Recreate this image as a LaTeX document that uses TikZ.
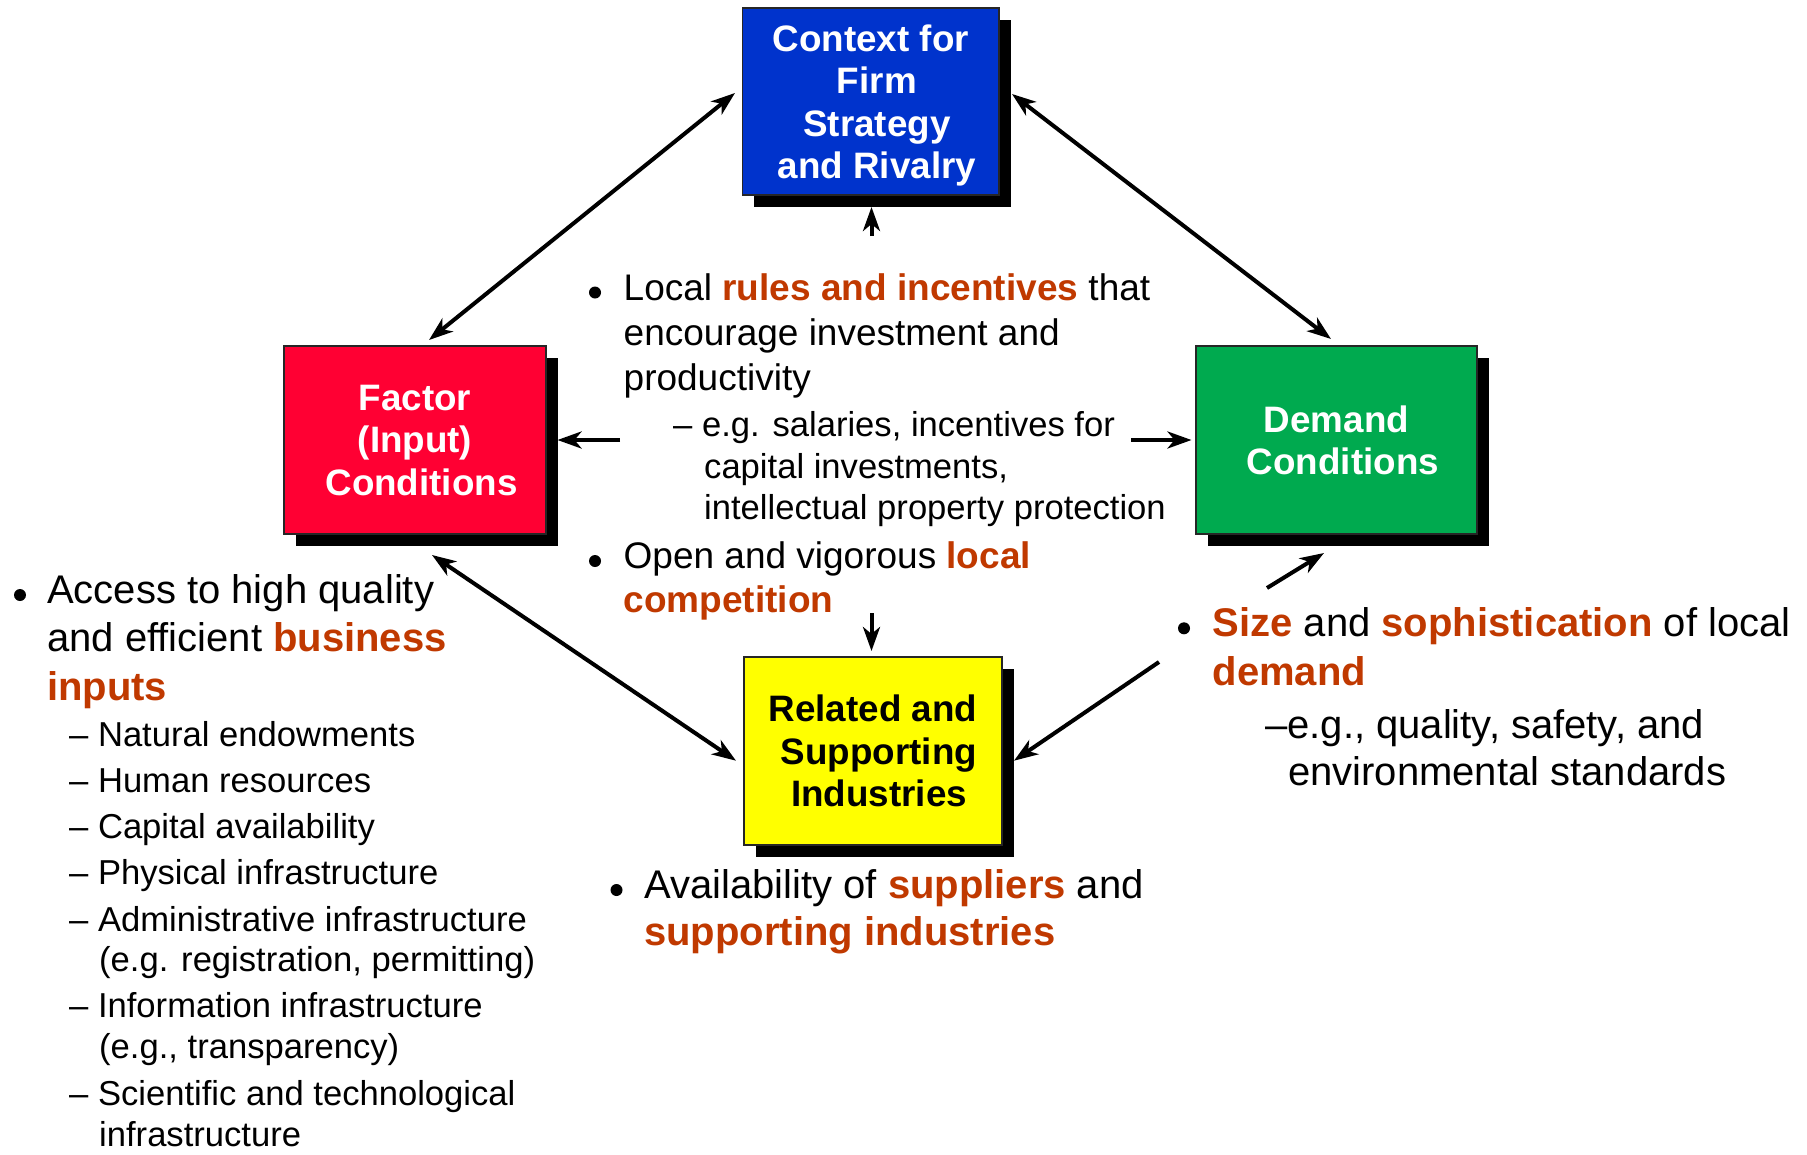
\documentclass[tikz,border=0pt]{standalone}
\usepackage{fontspec}
\setmainfont{Liberation Sans}
\usetikzlibrary{arrows.meta,shadows}
\definecolor{cblue}{RGB}{0,51,204}
\definecolor{cred}{RGB}{255,0,51}
\definecolor{cgreen}{RGB}{0,170,79}
\definecolor{cyel}{RGB}{255,255,0}
\definecolor{hlc}{RGB}{192,57,0}
\newcommand\hlt[1]{{\bfseries\color{hlc}#1}}
\newcommand\fA{\fontsize{37}{44}\selectfont}
\newcommand\fB{\fontsize{34.6}{41}\selectfont}
\newcommand\fC{\fontsize{40}{47}\selectfont}
\newcommand\rs{\hspace*{12pt}}
\begin{document}
\begin{tikzpicture}[x=1pt,y=-1pt,
  box/.style={draw=black!85, line width=1.5pt, align=center, inner sep=0pt, text depth=0pt,
    font=\fontsize{36.8}{42.5}\selectfont\bfseries,
    general shadow={fill=black, shadow xshift=11.5pt, shadow yshift=-11.5pt}},
  txt/.style={anchor=base west, inner sep=0pt},
  conn/.style={line width=4pt, -{Stealth[length=24pt,width=17pt,inset=7pt]}},
  twoway/.style={line width=4pt, {Stealth[length=24pt,width=17pt,inset=7pt]}-{Stealth[length=24pt,width=17pt,inset=7pt]}},
  plain/.style={line width=4pt}]
\fill[white] (0,0) rectangle (1807,1154);
\useasboundingbox (0,0) rectangle (1807,1154);

% boxes
\node[box, fill=cblue, text=white, minimum width=256.3pt, minimum height=187pt] (ctx) at (870.85,101.5) {Context for\\\rs Firm\\\rs Strategy\\\rs and Rivalry};
\node[box, fill=cred, text=white, minimum width=262pt, minimum height=188pt] (fac) at (415,440) {Factor\\(Input)\\\hspace*{13pt}Conditions};
\node[box, fill=cgreen, text=white, minimum width=281pt, minimum height=188pt] (dem) at (1336.5,440) {Demand\\\hspace*{13pt}Conditions};
\node[box, fill=cyel, text=black, minimum width=258pt, minimum height=188pt] (rel) at (873,751) {Related and\\\rs Supporting\\\rs Industries};

% connector end points
\coordinate (ctx-l) at (735,93);   \coordinate (fac-t) at (429,340);
\coordinate (ctx-r) at (1012,94);  \coordinate (dem-t) at (1331,339);
\coordinate (fac-b) at (432,555);  \coordinate (rel-l) at (736,760.7);
\coordinate (dem-line) at (1159,662); \coordinate (rel-r) at (1014,760.7);
\coordinate (dem-src) at (1267,588); \coordinate (dem-b) at (1324,553);
\coordinate (ctx-src) at (871.5,236); \coordinate (ctx-b) at (871.5,207);
\coordinate (rel-src) at (871.5,613); \coordinate (rel-t) at (871.5,651);
\coordinate (fac-src) at (620,440); \coordinate (fac-r) at (557.5,440);
\coordinate (dem-src2) at (1131,440); \coordinate (dem-l) at (1191.5,440);

\draw[twoway] (ctx-l) -- (fac-t);
\draw[twoway] (ctx-r) -- (dem-t);
\draw[twoway] (fac-b) -- (rel-l);
\draw[conn] (dem-line) -- (rel-r);
\draw[conn] (dem-src) -- (dem-b);
\draw[conn] (ctx-src) -- (ctx-b);
\draw[conn] (rel-src) -- (rel-t);
\draw[conn] (fac-src) -- (fac-r);
\draw[conn] (dem-src2) -- (dem-l);

% centre text
\fill (595,292.5) circle (6pt);
\node[txt, font=\fA] (c1) at (623.5,300.3) {Local \hlt{rules and incentives} that};
\node[txt, font=\fA] (c2) at (623.5,345.2) {encourage investment and};
\node[txt, font=\fA] (c3) at (623.5,390.1) {productivity};
\node[txt, font=\fB] (c4) at (673,436.6) {– e.g. salaries, incentives for};
\node[txt, font=\fB] (c5) at (704,478.1) {capital investments,};
\node[txt, font=\fB] (c6) at (704,519.6) {intellectual property protection};
\fill (595,561) circle (6pt);
\node[txt, font=\fA] (c7) at (623.5,568.8) {Open and vigorous \hlt{local}};
\node[txt, font=\fA] (c8) at (623.5,612.5) {\hlt{competition}};

% left text
\fill (20,595) circle (6pt);
\node[txt, font=\fC] (l1) at (47,603.3) {Access to high quality};
\node[txt, font=\fC] (l2) at (47,651.7) {and efficient \hlt{business}};
\node[txt, font=\fC] (l3) at (47,700.1) {\hlt{inputs}};
\node[txt, font=\fB] (l4) at (69,746.6) {– Natural endowments};
\node[txt, font=\fB] (l5) at (69,792.7) {– Human resources};
\node[txt, font=\fB] (l6) at (69,838.8) {– Capital availability};
\node[txt, font=\fB] (l7) at (69,884.9) {– Physical infrastructure};
\node[txt, font=\fB] (l8) at (69,931) {– Administrative infrastructure};
\node[txt, font=\fB] (l9) at (99,971.3) {(e.g. registration, permitting)};
\node[txt, font=\fB] (l10) at (69,1017.4) {– Information infrastructure};
\node[txt, font=\fB] (l11) at (99,1058.9) {(e.g., transparency)};
\node[txt, font=\fB] (l12) at (69,1105) {– Scientific and technological};
\node[txt, font=\fB] (l13) at (99,1146.5) {infrastructure};

% right text
\fill (1184,628.3) circle (6pt);
\node[txt, font=\fC] (r1) at (1212.5,636.7) {\hlt{Size} and \hlt{sophistication} of local};
\node[txt, font=\fC] (r2) at (1212.5,685.1) {\hlt{demand}};
\node[txt, font=\fC] (r3) at (1265,738.1) {–e.g., quality, safety, and};
\node[txt, font=\fC] (r4) at (1288,785.4) {environmental standards};

% bottom text
\fill (616.5,890) circle (6pt);
\node[txt, font=\fC] (b1) at (644,898.3) {Availability of \hlt{suppliers} and};
\node[txt, font=\fC] (b2) at (644,945.5) {\hlt{supporting industries}};
\end{tikzpicture}
\end{document}
